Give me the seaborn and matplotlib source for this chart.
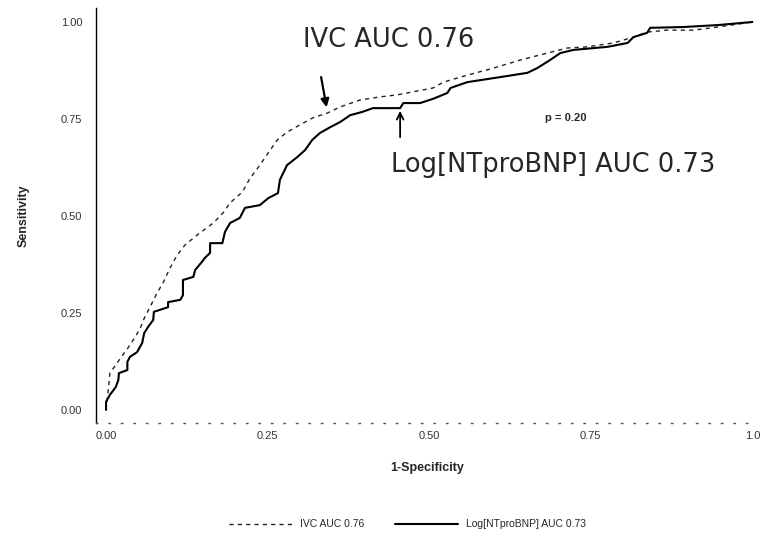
import matplotlib
matplotlib.use("Agg")
import matplotlib.pyplot as plt
import seaborn as sns
import pandas as pd
from matplotlib.lines import Line2D

# ROC curve for IVC (dashed)
ivc_fpr = [0, 0.003, 0.006, 0.017, 0.026, 0.034, 0.045, 0.053, 0.060, 0.068, 0.079, 0.088,
           0.099, 0.110, 0.122, 0.141, 0.166, 0.181, 0.192, 0.211, 0.223, 0.235, 0.254,
           0.265, 0.280, 0.300, 0.320, 0.342, 0.362, 0.393, 0.424, 0.450, 0.475, 0.506,
           0.522, 0.559, 0.599, 0.641, 0.683, 0.714, 0.745, 0.785, 0.816, 0.837, 0.868,
           0.909, 0.946, 1.0]
ivc_tpr = [0, 0.044, 0.095, 0.121, 0.142, 0.160, 0.188, 0.211, 0.240, 0.265, 0.302, 0.327,
           0.366, 0.399, 0.425, 0.451, 0.482, 0.508, 0.534, 0.562, 0.598, 0.624, 0.670,
           0.696, 0.716, 0.735, 0.753, 0.765, 0.781, 0.799, 0.807, 0.812, 0.820, 0.830,
           0.845, 0.863, 0.881, 0.902, 0.920, 0.933, 0.936, 0.946, 0.961, 0.974, 0.979,
           0.979, 0.987, 1.0]

# ROC curve for Log[NTproBNP] (solid)
bnp_fpr = [0, 0, 0.006, 0.015, 0.019, 0.020, 0.033, 0.033, 0.037, 0.048, 0.056, 0.059,
           0.065, 0.073, 0.074, 0.096, 0.096, 0.115, 0.119, 0.119, 0.135, 0.138, 0.147,
           0.153, 0.161, 0.161, 0.180, 0.184, 0.192, 0.207, 0.215, 0.238, 0.251, 0.266,
           0.269, 0.280, 0.296, 0.308, 0.319, 0.331, 0.347, 0.362, 0.378, 0.396, 0.413,
           0.455, 0.460, 0.486, 0.506, 0.528, 0.533, 0.559, 0.610, 0.652, 0.667, 0.687,
           0.703, 0.723, 0.776, 0.807, 0.816, 0.837, 0.842, 0.893, 0.946, 1.0]
bnp_tpr = [0, 0.021, 0.039, 0.059, 0.077, 0.095, 0.103, 0.124, 0.137, 0.149, 0.173, 0.198,
           0.214, 0.232, 0.253, 0.265, 0.278, 0.284, 0.296, 0.335, 0.343, 0.361, 0.379,
           0.392, 0.405, 0.430, 0.430, 0.459, 0.482, 0.495, 0.521, 0.528, 0.546, 0.559,
           0.593, 0.631, 0.652, 0.670, 0.696, 0.714, 0.729, 0.742, 0.760, 0.768, 0.778,
           0.778, 0.791, 0.791, 0.802, 0.817, 0.830, 0.845, 0.858, 0.869, 0.881, 0.902,
           0.920, 0.928, 0.936, 0.946, 0.961, 0.972, 0.985, 0.987, 0.992, 1.0]

series_labels = ["IVC AUC 0.76", "Log[NTproBNP] AUC 0.73"]
tick_values = [0.0, 0.25, 0.50, 0.75, 1.0]
x_tick_labels = ["0.00", "0.25", "0.50", "0.75", "1.0"]
y_tick_labels = ["0.00", "0.25", "0.50", "0.75", "1.00"]
p_text = "p = 0.20"

sns.set_style("white")
plt.rcParams['font.family'] = ['Liberation Sans', 'DejaVu Sans']

fig = plt.figure(figsize=(7.62, 5.46), dpi=100)
ax = fig.add_axes([0.126, 0.2253, 0.869, 0.760])

ivc_df = pd.DataFrame({"fpr": ivc_fpr, "tpr": ivc_tpr})
bnp_df = pd.DataFrame({"fpr": bnp_fpr, "tpr": bnp_tpr})

sns.lineplot(data=ivc_df, x="fpr", y="tpr", sort=False, estimator=None, ax=ax,
             color="#222222", linewidth=1.0, linestyle=(0, (3, 3)))
sns.lineplot(data=bnp_df, x="fpr", y="tpr", sort=False, estimator=None, ax=ax,
             color="black", linewidth=1.5)

ax.set_xlim(-0.0155, 1.009)
ax.set_ylim(-0.0335, 1.036)
ax.set_xticks(tick_values)
ax.set_xticklabels(x_tick_labels, fontsize=8, color="#333333")
ax.set_yticks(tick_values)
ax.set_yticklabels(y_tick_labels, fontsize=8, color="#333333")
ax.tick_params(axis="y", direction="out", length=3, width=0.8, pad=7, colors="#333333")
ax.tick_params(axis="x", direction="in", length=3, width=0.8, pad=6, colors="#333333")

for s in ["top", "right"]:
    ax.spines[s].set_visible(False)
ax.spines["left"].set_color("black")
ax.spines["left"].set_linewidth(1.0)
ax.spines["bottom"].set_color("#555555")
ax.spines["bottom"].set_linewidth(1.0)
ax.spines["bottom"].set_linestyle((0, (1, 8)))

ax.set_xlabel("1-Specificity", fontsize=9, fontweight="bold", labelpad=15)
ax.set_ylabel("Sensitivity", fontsize=9, fontweight="bold", labelpad=22)

# handwritten-style annotations
ax.text(0.437, 0.954, series_labels[0], fontsize=18.5, ha="center", va="center",
        fontfamily="DejaVu Sans")
ax.annotate("", xy=(0.342, 0.773), xytext=(0.332, 0.865),
            arrowprops=dict(arrowstyle="-|>", color="black", lw=1.6, mutation_scale=12))
ax.text(0.692, 0.631, series_labels[1], fontsize=18.5, ha="center", va="center",
        fontfamily="DejaVu Sans")
ax.annotate("", xy=(0.455, 0.778), xytext=(0.455, 0.696),
            arrowprops=dict(arrowstyle="->", color="black", lw=1.3, mutation_scale=12))
ax.text(0.711, 0.753, p_text, fontsize=8, fontweight="bold", ha="center", va="center")

handles = [Line2D([0], [0], color="#222222", lw=1.0, linestyle=(0, (3, 3))),
           Line2D([0], [0], color="black", lw=1.5)]
fig.legend(handles, series_labels, loc="center", bbox_to_anchor=(0.535, 0.04), ncol=2,
           frameon=False, fontsize=7.5, handlelength=6, columnspacing=3)

fig.savefig("out.png", dpi=100)
